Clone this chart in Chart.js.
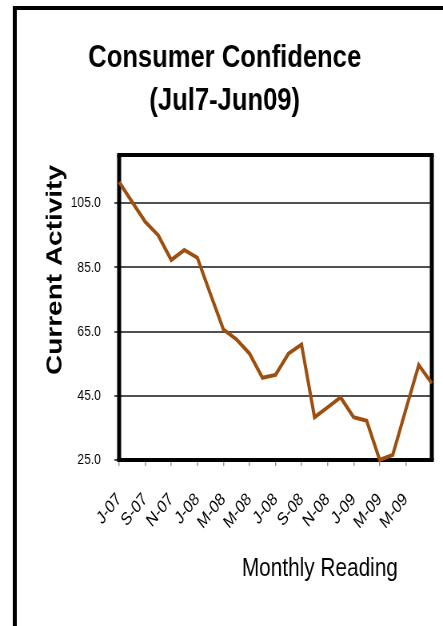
<!DOCTYPE html>
<html>
<head>
<meta charset="utf-8">
<script src="https://cdn.jsdelivr.net/npm/chart.js@4"></script>
<style>
  html, body { margin: 0; padding: 0; background: #fff; overflow: hidden; width: 443px; height: 626px; }
  #c { position: absolute; left: 0; top: 0; transform: scaleX(0.7996); transform-origin: 0 0; }
</style>
</head>
<body>
<canvas id="c" width="554" height="626"></canvas>
<script>
// ---- data ----
const titleLines = ['Consumer Confidence', '(Jul7-Jun09)'];
const yAxisTitle = 'Current Activity';
const xAxisTitle = 'Monthly Reading';
const categories = ['J-07','A-07','S-07','O-07','N-07','D-07','J-08','F-08','M-08','A-08','M-08','J-08',
                    'J-08','A-08','S-08','O-08','N-08','D-08','J-09','F-09','M-09','A-09','M-09','J-09','J-09'];
const values = [111.6, 105.4, 99.2, 95.0, 87.3, 90.4, 88.0, 76.8, 65.7, 62.6, 58.2, 50.6,
                51.5, 58.2, 61.0, 38.3, 41.4, 44.5, 38.3, 37.2, 25.0, 26.6, 40.6, 54.6, 48.9];
const yTicks = [25, 45, 65, 85, 105];
const yMin = 25, yMax = 120;

const FONT = '"Liberation Sans", Arial, Helvetica, sans-serif';

const framePlugin = {
  id: 'frame',
  beforeDatasetsDraw(chart) {
    const {ctx, chartArea: a} = chart;
    ctx.save();
    ctx.strokeStyle = '#000';
    // plot border
    ctx.lineWidth = 4;
    ctx.beginPath();
    ctx.moveTo(a.left - 2.5, a.top); ctx.lineTo(a.right + 2.5, a.top);
    ctx.moveTo(a.left - 2.5, a.bottom); ctx.lineTo(a.right + 2.5, a.bottom);
    ctx.stroke();
    ctx.lineWidth = 5;
    ctx.beginPath();
    ctx.moveTo(a.left, a.top); ctx.lineTo(a.left, a.bottom);
    ctx.moveTo(a.right, a.top); ctx.lineTo(a.right, a.bottom);
    ctx.stroke();
    // outer frame
    ctx.lineWidth = 4;
    ctx.beginPath();
    ctx.moveTo(16, 8); ctx.lineTo(chart.width, 8);
    ctx.stroke();
    ctx.lineWidth = 5;
    ctx.beginPath();
    ctx.moveTo(18.5, 6); ctx.lineTo(18.5, chart.height);
    ctx.stroke();
    ctx.restore();
  },
  afterDraw(chart) {
    const {ctx} = chart;
    ctx.save();
    ctx.fillStyle = '#000';
    ctx.textAlign = 'center';
    ctx.textBaseline = 'middle';
    ctx.font = 'bold 28px ' + FONT;
    ctx.translate(69, 270);
    ctx.rotate(-Math.PI / 2);
    ctx.fillText(yAxisTitle, 0, 0);
    ctx.restore();
    ctx.save();
    ctx.fillStyle = '#000';
    ctx.textAlign = 'center';
    ctx.textBaseline = 'middle';
    ctx.font = '26px ' + FONT;
    ctx.fillText(xAxisTitle, 400, 569);
    ctx.restore();
  }
};

new Chart(document.getElementById('c'), {
  type: 'line',
  data: {
    labels: categories,
    datasets: [{
      data: values,
      yAxisID: 'y',
      borderColor: '#9C4F0E',
      borderWidth: 4,
      pointRadius: 0,
      tension: 0,
      fill: false,
      clip: false,
      borderJoinStyle: 'miter'
    }]
  },
  options: {
    responsive: false,
    devicePixelRatio: 1,
    animation: false,
    layout: { padding: { left: 8, right: 0, top: 0, bottom: 0 } },
    plugins: {
      legend: { display: false },
      tooltip: { enabled: false },
      title: {
        display: true,
        text: titleLines,
        color: '#000',
        font: { family: FONT, size: 32, weight: 'bold', lineHeight: 1.36 },
        padding: { top: 36, bottom: 32 }
      }
    },
    scales: {
      x: {
        offset: false,
        border: { display: false },
        grid: {
          display: true,
          drawOnChartArea: false,
          drawTicks: true,
          tickLength: 6,
          lineWidth: 1.5,
          color: (c) => (c.index % 2 === 0 && c.index < categories.length - 1) ? '#9a9a9a' : 'rgba(0,0,0,0)'
        },
        ticks: {
          autoSkip: false,
          minRotation: 45,
          maxRotation: 45,
          padding: 23,
          color: '#000',
          font: { family: FONT, size: 18 },
          callback: (v, i) => (i % 2 === 0 && i < categories.length - 1) ? categories[i] : ''
        },
        afterFit: (s) => { s.height = 166; s.paddingLeft = 0; s.paddingRight = 0; }
      },
      y: {
        min: yMin,
        max: yMax,
        border: { display: false },
        grid: { color: '#505050', lineWidth: 2, tickLength: 6 },
        ticks: {
          padding: 17,
          color: '#000',
          font: { family: FONT, size: 15 },
          callback: (v) => Number(v).toFixed(1)
        },
        afterBuildTicks: (s) => { s.ticks = yTicks.map(v => ({ value: v })); },
        afterFit: (s) => { s.width = 141; s.paddingTop = 0; s.paddingBottom = 0; }
      },
      y2: {
        position: 'right',
        min: yMin,
        max: yMax,
        border: { display: false },
        grid: { display: false, drawTicks: false },
        ticks: { display: false },
        afterFit: (s) => { s.width = 14; s.paddingTop = 0; s.paddingBottom = 0; }
      }
    }
  },
  plugins: [framePlugin]
});
</script>
</body>
</html>
